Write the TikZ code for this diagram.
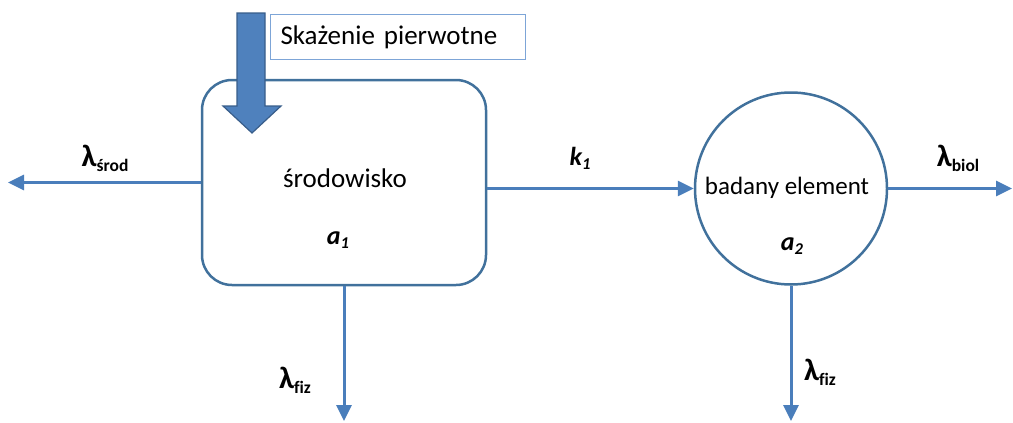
\documentclass[tikz,border=0pt]{standalone}
\usepackage{fontspec}
\setmainfont{Carlito}[Ligatures=NoCommon]
\usetikzlibrary{arrows.meta}

\definecolor{linkblue}{RGB}{74,126,187}
\definecolor{edgeblue}{RGB}{65,113,156}
\definecolor{fillblue}{RGB}{79,129,189}
\definecolor{arrowedge}{RGB}{56,93,138}
\definecolor{tagblue}{RGB}{125,165,215}

% bold symbol with a bold subscript (decay constants)
\newcommand{\decay}[2]{{\fontsize{31}{34}\selectfont\bfseries #1}\raisebox{-5pt}{\fontsize{17.5}{20}\selectfont\bfseries #2}}
% bold italic quantity with subscript index
\newcommand{\qty}[2]{{\fontsize{26}{28}\selectfont\bfseries\itshape #1}\raisebox{-4pt}{\fontsize{16.5}{18}\selectfont\bfseries\itshape #2}}

\begin{document}
\begin{tikzpicture}[x=1pt,y=-1pt,
  font=\fontsize{25}{30}\selectfont,
  flow/.style={draw=linkblue, line width=3pt, -{Triangle[length=16pt,width=15pt]}},
  compartment/.style={draw=edgeblue, line width=2.5pt},
  lbl/.style={inner sep=1pt}]
\useasboundingbox (0,0) rectangle (1013,423);

% compartments
\node[compartment, rounded corners=30pt, minimum width=284pt, minimum height=205pt] (env) at (344,182.5) {};
\node[compartment, circle, minimum size=192pt, inner sep=0pt] (elem) at (791,188.5) {};

% texts inside compartments
\node[lbl, font=\fontsize{27}{30}\selectfont] (tenv) at (345,178) {środowisko};
\node[lbl] (ta1) at (338,240) {\qty{a}{1}};
\node[lbl] (telem) at (787,188) {badany element};
\node[lbl] (ta2) at (792,246) {\qty{a}{2}};

% free ends of outgoing flows
\coordinate (wout) at (8,182.5);
\coordinate (bout) at (1012,188.5);
\coordinate (f1) at (344,421);
\coordinate (f2) at (791,421);

% flows
\draw[flow] (env.west) -- (wout);
\draw[flow] (env.east |- elem.west) -- (elem.west);
\draw[flow] (elem.east) -- (bout);
\draw[flow] (env.south) -- (f1);
\draw[flow] (elem.south) -- (f2);

% flow labels
\node[lbl] (lsrod) at (105,158) {\decay{λ}{środ}};
\node[lbl] (lk) at (580,158) {\qty{k}{1}};
\node[lbl] (lbiol) at (958,158) {\decay{λ}{biol}};
\node[lbl] (lfiz1) at (295,380) {\decay{λ}{fiz}};
\node[lbl] (lfiz2) at (820,372) {\decay{λ}{fiz}};

% primary contamination input
\draw[fill=fillblue, draw=arrowedge, line width=1.2pt]
  (237,13) -- (265,13) -- (265,106) -- (281,106) -- (252,133) -- (223,106) -- (237,106) -- cycle;
\node[draw=tagblue, line width=1pt, anchor=north west, minimum height=45pt,
  text width=235pt, inner xsep=10pt, align=left, font=\fontsize{27}{30}\selectfont] (tag) at (270,14) {Skażenie pierwotne};
\end{tikzpicture}
\end{document}
